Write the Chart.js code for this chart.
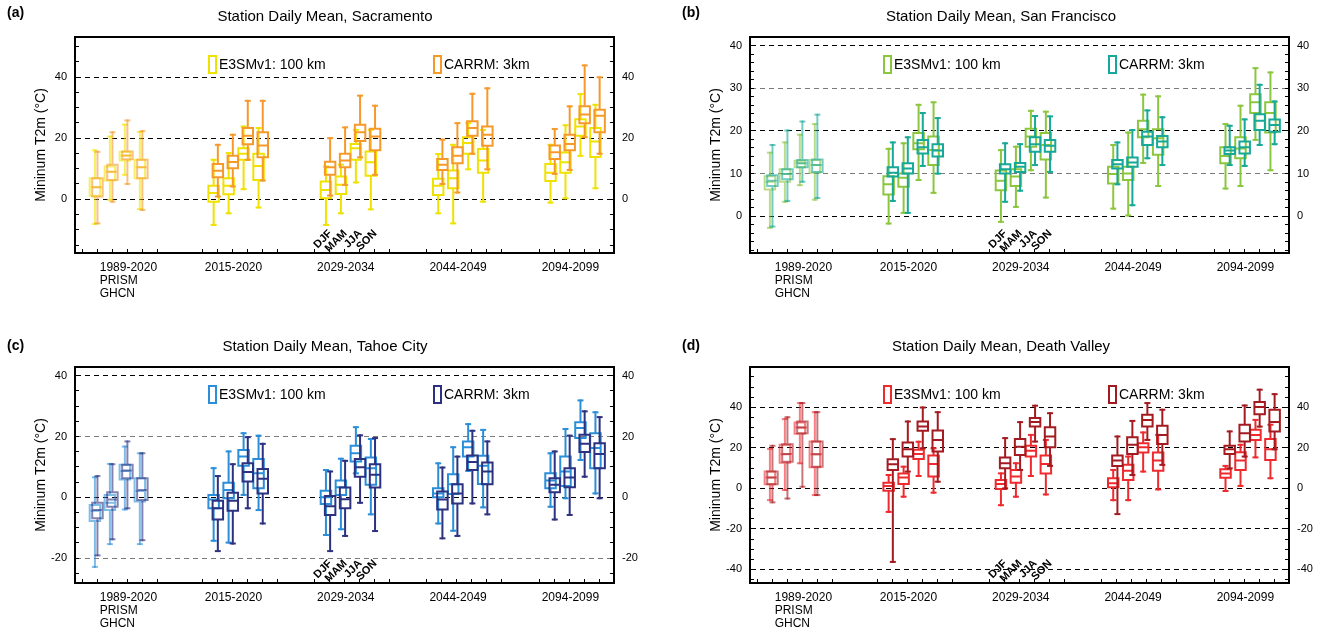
<!DOCTYPE html>
<html><head><meta charset="utf-8">
<script src="https://cdn.jsdelivr.net/npm/chart.js@4.4.1/dist/chart.umd.min.js"></script>
<style>
html,body{margin:0;padding:0;background:#fff;width:1327px;height:630px;overflow:hidden;}
canvas{position:absolute;display:block;}
</style></head><body>
<canvas id="ca" width="650" height="330" style="left:0;top:0"></canvas>
<canvas id="cb" width="652" height="330" style="left:675px;top:0"></canvas>
<canvas id="cc" width="650" height="300" style="left:0;top:330px"></canvas>
<canvas id="cd" width="652" height="300" style="left:675px;top:330px"></canvas>
<script>
// ---------------- categories / labels ----------------
const seasons = ['DJF','MAM','JJA','SON'];
const periods = ['1989-2020','2015-2020','2029-2034','2044-2049','2094-2099'];
const obsNames = ['PRISM','GHCN'];
const modelNames = ['E3SMv1: 100 km','CARRM: 3km'];
const groupStart = [1, 9, 16.5, 24, 31.5];
const labelPos = [2.15, 9.17, 16.67, 24.17, 31.67];

// ---------------- values: [min, q1, median, q3, max] ----------------
// Sacramento
const sacPRISM = [[-8.1,1.1,3.9,6.9,16.0],[-0.2,6.1,9.0,10.7,20.5],[8.0,12.7,14.2,15.5,24.4],[-3.2,6.9,10.5,12.9,22.0]];
const sacGHCN  = [[-7.9,0.9,3.9,6.9,15.5],[-0.8,6.3,9.0,11.3,21.9],[5.0,13.1,14.3,15.6,25.8],[-3.5,6.9,10.5,12.9,22.3]];
const sacE3SM = [
 [-8.4,-0.8,2.0,4.4,12.9],[-4.6,1.6,4.4,6.9,15.1],[3.3,12.9,14.9,16.7,23.8],[-2.7,6.3,10.9,14.9,23.3],
 [-8.4,0.3,3.0,5.8,10.7],[-4.6,1.7,4.7,7.4,11.3],[5.5,12.9,16.7,18.1,22.7],[-3.3,7.7,12.1,15.6,22.7],
 [-4.6,1.4,4.4,6.7,14.8],[-7.9,3.6,6.9,9.4,17.8],[9.8,14.9,18.4,20.3,24.9],[-0.8,8.7,12.7,16.4,22.7],
 [-1.1,6.0,8.7,11.5,17.8],[0.3,8.7,12.1,15.3,24.2],[14.2,20.8,23.8,26.2,34.4],[3.6,13.8,18.9,23.3,30.9]];
const sacCARRM = [
 [0.9,7.2,9.3,11.5,17.8],[4.2,10.1,12.2,14.2,21.1],[12.9,18.0,20.8,23.3,32.2],[6.1,13.7,17.6,21.9,32.2],
 [1.2,8.0,10.5,12.3,20.0],[4.7,10.5,12.7,14.9,23.5],[13.7,19.1,21.9,24.4,33.9],[8.0,16.0,20.5,23.1,30.6],
 [5.0,9.6,11.3,13.2,19.5],[2.2,11.8,14.2,17.0,24.9],[14.9,20.8,23.3,25.5,34.5],[9.8,17.5,21.1,23.8,36.3],
 [8.3,13.2,15.4,17.6,23.0],[9.6,16.0,18.1,21.1,30.4],[20.3,24.9,27.7,30.4,43.8],[14.9,21.9,27.3,29.3,39.9]];
// San Francisco
const sfPRISM = [[-2.7,6.3,8.1,9.4,14.9],[3.4,8.1,9.9,11.0,17.3],[7.3,11.5,12.4,13.0,19.1],[3.9,10.2,12.0,13.2,21.6]];
const sfGHCN  = [[-2.4,7.1,8.3,9.6,16.7],[3.6,8.7,9.9,11.0,20.1],[8.1,11.5,12.4,13.2,22.2],[4.3,10.4,12.0,13.3,23.8]];
const sfE3SM = [
 [-1.7,5.1,7.5,9.4,15.8],[0.8,6.9,9.0,10.0,17.1],[8.5,15.7,17.1,19.5,26.1],[5.5,12.0,15.5,18.7,26.7],
 [-1.3,6.1,8.3,10.7,15.5],[2.2,7.1,9.3,11.0,16.3],[10.8,16.3,18.7,20.5,24.7],[4.4,13.3,16.7,19.5,24.5],
 [1.8,7.7,9.9,11.6,16.7],[0.2,8.5,10.0,11.6,19.6],[12.5,18.5,20.4,22.4,28.5],[7.1,14.4,18.3,20.4,28.1],
 [6.5,12.4,14.1,16.2,21.6],[7.1,13.6,15.9,18.5,25.9],[17.9,24.2,26.7,28.6,34.7],[10.8,19.6,24.2,26.7,33.7]];
const sfCARRM = [
 [3.6,9.3,10.2,11.5,17.3],[0.8,10.0,11.2,12.4,18.5],[11.8,14.7,16.2,17.9,24.2],[10.0,14.0,15.4,16.9,23.0],
 [3.4,10.0,11.0,12.2,17.1],[6.0,10.4,11.6,12.5,16.9],[12.0,15.1,16.9,18.5,23.5],[10.4,15.1,16.5,17.9,23.4],
 [7.5,11.2,12.2,13.2,17.3],[2.6,11.6,12.6,13.8,20.2],[13.6,16.7,18.7,19.8,24.8],[12.0,16.2,17.5,18.8,23.2],
 [12.0,14.6,15.4,16.2,21.2],[11.8,14.7,16.2,17.5,22.7],[16.7,20.2,22.4,23.9,30.8],[16.9,19.8,21.4,22.7,26.9]];
// Tahoe City
const tcPRISM = [[-22.9,-7.8,-4.4,-2.5,6.6],[-15.4,-4.2,-1.8,0.8,11.0],[-4.0,5.9,8.7,10.7,16.7],[-15.4,-1.4,2.1,6.3,14.5]];
const tcGHCN  = [[-19.1,-6.9,-4.2,-1.8,7.0],[-13.8,-3.1,-0.7,1.7,10.9],[-3.6,6.3,8.8,10.7,18.4],[-14.1,-0.9,2.4,6.3,14.5]];
const tcE3SM = [
 [-14.3,-3.6,-0.7,0.8,9.6],[-14.9,-0.3,2.4,4.8,15.1],[0.8,10.4,13.4,15.6,21.1],[-4.2,3.0,7.9,12.6,20.3],
 [-12.4,-2.2,0.0,2.2,9.0],[-10.5,0.8,3.3,5.5,12.7],[7.9,11.8,14.5,17.0,23.1],[-5.6,4.1,9.6,13.1,19.2],
 [-8.6,0.0,1.3,3.0,11.2],[-11.0,1.1,4.3,7.6,16.5],[8.7,13.4,16.5,18.4,24.1],[-3.3,4.4,10.4,13.7,22.2],
 [-3.1,3.0,5.5,7.9,14.5],[-0.3,3.7,8.5,13.4,22.5],[12.3,19.5,22.8,24.7,31.9],[1.3,9.6,16.2,21.1,28.0]];
const tcCARRM = [
 [-17.7,-7.3,-3.6,-1.1,7.0],[-15.2,-4.4,-1.1,1.5,10.9],[-3.6,5.2,8.3,11.2,19.8],[-8.6,1.3,6.1,9.3,17.6],
 [-17.7,-5.8,-2.9,0.4,8.5],[-12.7,-3.6,-0.6,3.2,12.0],[-1.8,6.8,9.9,12.6,20.4],[-11.1,3.2,7.4,10.9,19.5],
 [-13.5,-4.0,-0.7,1.9,9.8],[-12.7,-2.0,1.3,4.3,13.4],[-2.0,9.0,11.6,13.8,21.9],[-5.6,4.3,8.5,11.5,18.4],
 [-7.3,1.7,4.1,6.3,15.1],[-5.8,3.3,6.5,9.6,20.3],[6.8,14.9,17.6,20.6,28.3],[-0.3,9.6,14.3,17.8,26.4]];
// Death Valley
const dvPRISM = [[-5.8,2.0,5.4,8.3,19.5],[-0.8,12.7,16.8,21.5,34.2],[12.4,26.9,30.0,32.5,42.1],[-3.3,10.4,16.8,23.1,37.6]];
const dvGHCN  = [[-6.9,2.0,5.4,8.3,21.0],[-5.0,13.2,17.0,21.8,35.1],[0.8,27.2,30.0,33.0,42.1],[-3.3,10.7,16.8,23.1,37.6]];
const dvE3SM = [
 [-11.6,-1.2,1.2,2.8,6.6],[-4.1,2.1,5.4,7.4,10.7],[6.1,14.5,17.0,19.0,23.0],[-2.1,5.8,12.0,16.2,19.8],
 [-8.3,-0.3,2.1,4.1,7.4],[-4.1,2.8,5.8,9.1,12.4],[6.1,15.7,18.6,21.0,26.4],[-3.0,7.4,12.0,16.2,23.9],
 [-5.8,0.5,2.5,5.0,9.1],[-5.8,4.1,8.7,11.6,15.7],[8.3,17.7,20.3,22.3,27.6],[-0.5,8.7,13.7,17.7,26.4],
 [-1.3,5.3,7.4,9.4,11.1],[1.2,9.1,13.7,17.8,21.5],[15.3,23.9,26.4,28.9,33.8],[5.0,14.0,19.3,24.4,31.4]];
const dvCARRM = [
 [-36.3,9.1,11.9,14.4,24.3],[8.3,15.7,19.3,22.6,33.0],[19.8,28.4,30.5,33.0,39.9],[3.3,18.2,23.9,28.5,37.6],
 [0.0,9.9,12.4,15.2,24.8],[9.1,16.5,20.6,24.4,32.7],[23.1,30.5,32.7,34.7,40.8],[11.1,20.3,25.6,30.2,37.1],
 [-12.7,11.1,13.7,16.2,25.6],[6.6,17.0,21.5,25.2,33.3],[23.9,30.5,33.8,36.3,42.1],[11.6,21.9,26.4,30.9,38.8],
 [9.9,17.0,19.3,21.0,28.1],[15.7,23.1,27.2,31.4,40.9],[30.5,36.6,40.1,42.6,48.7],[19.3,28.1,32.7,38.8,46.5]];

// ---------------- panels ----------------
const panels = [
 {id:'ca', letter:'(a)', title:'Station Daily Mean, Sacramento', colors:['#f0e200','#f59a2a'],
  obs:[sacPRISM,sacGHCN], e3sm:sacE3SM, carrm:sacCARRM, yMin:-17.6, yMax:53.1, yMajor:20, yMinor:5, grey:[], letterY:13},
 {id:'cb', letter:'(b)', title:'Station Daily Mean, San Francisco', colors:['#8cc63f','#16a898'],
  obs:[sfPRISM,sfGHCN], e3sm:sfE3SM, carrm:sfCARRM, yMin:-8.6, yMax:42, yMajor:10, yMinor:2, grey:[10,30], letterY:13},
 {id:'cc', letter:'(c)', title:'Station Daily Mean, Tahoe City', colors:['#2a8fd8','#2c3180'],
  obs:[tcPRISM,tcGHCN], e3sm:tcE3SM, carrm:tcCARRM, yMin:-28.2, yMax:42.9, yMajor:20, yMinor:5, grey:[-20,20], letterY:16},
 {id:'cd', letter:'(d)', title:'Station Daily Mean, Death Valley', colors:['#ee2a2e','#a31b20'],
  obs:[dvPRISM,dvGHCN], e3sm:dvE3SM, carrm:dvCARRM, yMin:-46.7, yMax:59.9, yMajor:20, yMinor:5, grey:[], letterY:16}
];

const FONT = '"Liberation Sans", Arial, Helvetica, sans-serif';
Chart.defaults.font.family = FONT;
Chart.defaults.color = '#000';

function rgba(hex, a){
  const n = parseInt(hex.slice(1),16);
  return `rgba(${(n>>16)&255},${(n>>8)&255},${n&255},${a})`;
}
function boxPath(stats, pos, hw){
  const pts = [];
  stats.forEach((s,i)=>{
    const p = pos[i]; const [mn,q1,md,q3,mx] = s;
    pts.push({x:p-hw,y:q1},{x:p+hw,y:q1},{x:p+hw,y:q3},{x:p-hw,y:q3},{x:p-hw,y:q1},{x:p,y:null});
    pts.push({x:p-hw,y:md},{x:p+hw,y:md},{x:p,y:null});
    pts.push({x:p,y:q3},{x:p,y:mx},{x:p,y:null});
    pts.push({x:p,y:q1},{x:p,y:mn},{x:p,y:null});
  });
  return pts;
}
function capPoints(stats, pos){
  return stats.flatMap((s,i)=>[{x:pos[i],y:s[4]},{x:pos[i],y:s[0]}]);
}

const minorX = groupStart.flatMap(g=>[0,1,2,3,4,5].map(k=>g+k));
const isLabelX = v => labelPos.some(p=>Math.abs(p-v)<1e-6);

const decor = {
  id:'decor',
  afterDraw(chart, args, o){
    const {ctx, chartArea:a, scales:{x}} = chart;
    ctx.save();
    ctx.fillStyle = '#000';
    ctx.font = 'bold 14px ' + FONT;
    ctx.textAlign = 'left'; ctx.textBaseline = 'middle';
    ctx.fillText(o.letter, 7, o.letterY);
    // legend
    ctx.font = '14px ' + FONT;
    [[modelNames[0], o.colors[0], 134],[modelNames[1], o.colors[1], 359]].forEach(([t,c,dx])=>{
      ctx.strokeStyle = c; ctx.lineWidth = 2;
      ctx.strokeRect(a.left+dx, a.top+19, 7, 17);
      ctx.fillStyle = '#000';
      ctx.fillText(t, a.left+dx+10, a.top+28);
    });
    // season labels
    ctx.font = 'bold 11px ' + FONT;
    seasons.forEach((s,i)=>{
      const px = x.getPixelForValue(groupStart[2]+1+i);
      ctx.save();
      ctx.translate(px+3, a.bottom-19);
      ctx.rotate(-Math.PI/4);
      ctx.textAlign = 'right'; ctx.textBaseline = 'alphabetic';
      ctx.fillText(s, 0, 0);
      ctx.restore();
    });
    ctx.restore();
  }
};

function makeChart(P){
  const canvas = document.getElementById(P.id);
  const cw = canvas.width, ch = canvas.height;
  const [cE, cC] = P.colors;
  const obsPos = seasons.map((s,i)=>groupStart[0]+1+i);
  const modPos = [];
  for (let g=1; g<5; g++) seasons.forEach((s,i)=>modPos.push(groupStart[g]+1+i));
  const shift = (arr,d)=>arr.map(v=>v+d);
  const pPos = shift(obsPos,-0.17), gPos = shift(obsPos,0), ePos = shift(modPos,-0.24), kPos = shift(modPos,0.04);
  const hw = 0.35;
  const lineDs = (data,color,order,w)=>({data, showLine:true, borderColor:color, borderWidth:w,
    pointRadius:0, pointHoverRadius:0, pointHitRadius:0, borderJoinStyle:'miter', borderCapStyle:'square', order});
  const capDs = (data,color,order,w)=>({data, showLine:false, pointStyle:'line', pointRadius:3,
    pointBorderWidth:w, pointBorderColor:color, pointBackgroundColor:color, pointHoverRadius:3, order});
  const oa = 0.6;
  const datasets = [
    lineDs(boxPath(P.carrm,kPos,hw), cC, 1, 2),
    capDs(capPoints(P.carrm,kPos), cC, 0, 2),
    lineDs(boxPath(P.e3sm,ePos,hw), cE, 3, 2),
    capDs(capPoints(P.e3sm,ePos), cE, 2, 2),
    lineDs(boxPath(P.obs[1],gPos,hw), rgba(cC,oa), 5, 2),
    capDs(capPoints(P.obs[1],gPos), rgba(cC,oa), 4, 2),
    lineDs(boxPath(P.obs[0],pPos,hw), rgba(cE,oa), 7, 2),
    capDs(capPoints(P.obs[0],pPos), rgba(cE,oa), 6, 2)
  ];
  const yTicks = [];
  const k0 = Math.ceil(P.yMin/P.yMinor), k1 = Math.floor(P.yMax/P.yMinor);
  for (let k = k0; k <= k1; k++) yTicks.push(k*P.yMinor);
  const isMajor = v => Math.abs(v/P.yMajor - Math.round(v/P.yMajor)) < 1e-6;
  const yLabel = v => isMajor(v) ? String(v) : '';
  const rightW = cw - 75 - 539;
  const bottomH = ch - 253;
  return new Chart(canvas, {
    type:'scatter',
    data:{datasets},
    plugins:[decor],
    options:{
      responsive:false, animation:false, events:[],
      layout:{padding:0},
      plugins:{
        legend:{display:false}, tooltip:{enabled:false},
        title:{display:true, text:P.title, color:'#000', font:{size:15, weight:'normal', family:FONT}, padding:{top:8,bottom:0}},
        decor:{letter:P.letter, letterY:P.letterY, colors:P.colors}
      },
      scales:{
        x:{type:'linear', position:'bottom', min:0.5, max:36.5,
          afterBuildTicks: s=>{ s.ticks = minorX.concat(labelPos).sort((a,b)=>a-b).map(v=>({value:v})); },
          afterFit: s=>{ s.height = bottomH; },
          ticks:{autoSkip:false, maxRotation:0, minRotation:0, align:'start', padding:12, color:'#000',
            font:{size:12, lineHeight:1.1},
            callback: v=>{ const i = labelPos.findIndex(p=>Math.abs(p-v)<1e-6); return i<0 ? '' : (i===0 ? [periods[0]].concat(obsNames) : periods[i]); }},
          grid:{drawOnChartArea:false, tickLength:-4, tickWidth:1,
            tickColor: c=> (c.tick && isLabelX(c.tick.value)) ? 'rgba(0,0,0,0)' : '#000'},
          border:{display:true, width:2, color:'#000'}
        },
        x2:{type:'linear', position:'top', min:0.5, max:36.5, display:true,
          ticks:{display:false}, grid:{display:false},
          afterFit: s=>{ s.height = 11; },
          border:{display:true, width:2, color:'#000'}
        },
        y:{type:'linear', position:'left', min:P.yMin, max:P.yMax,
          afterBuildTicks: s=>{ s.ticks = yTicks.map(v=>({value:v})); },
          afterFit: s=>{ s.width = 75; },
          ticks:{autoSkip:false, padding:12, color:'#000', font:{size:11}, callback:yLabel},
          grid:{tickLength:-4, tickWidth:1, tickColor:'#000', lineWidth:1,
            color: c=>{ const v = c.tick ? c.tick.value : NaN; if (!isMajor(v)) return 'rgba(0,0,0,0)'; return P.grey.includes(v) ? '#7a7a7a' : '#000'; }},
          border:{display:true, width:2, color:'#000', dash:[5,4]},
          title:{display:true, text:'Mininum T2m (°C)', color:'#000', font:{size:14}, padding:{top:32.6, bottom:0}}
        },
        y2:{type:'linear', position:'right', min:P.yMin, max:P.yMax,
          afterBuildTicks: s=>{ s.ticks = yTicks.map(v=>({value:v})); },
          afterFit: s=>{ s.width = rightW; },
          ticks:{autoSkip:false, padding:12, color:'#000', font:{size:11}, callback:yLabel},
          grid:{drawOnChartArea:false, tickLength:-4, tickWidth:1, tickColor:'#000'},
          border:{display:true, width:2, color:'#000'}
        }
      }
    }
  });
}
panels.forEach(makeChart);
</script>
</body></html>
